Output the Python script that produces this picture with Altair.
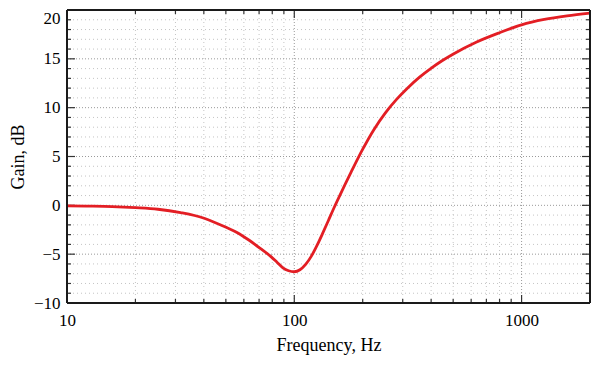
import altair as alt
import pandas as pd

# Curve data
freq = [10, 12.6, 15.8, 20, 25.1, 31.6, 39.8, 44.7, 50.1, 56.2, 63.1, 70.8,
        79.4, 84.1, 89.1, 94.4, 100, 105.9, 112.2, 118.9, 125.9, 133.4, 141.3,
        149.6, 158.5, 177.8, 199.5, 223.9, 251.2, 281.8, 316.2, 354.8, 398.1,
        446.7, 501.2, 631, 794.3, 1000, 1259, 1585, 2000]
gain = [-0.05, -0.08, -0.13, -0.24, -0.4, -0.75, -1.3, -1.75, -2.25, -2.8,
        -3.55, -4.4, -5.3, -5.85, -6.4, -6.7, -6.8, -6.6, -6.05, -5.2, -4.1,
        -2.85, -1.55, -0.25, 1.0, 3.4, 5.7, 7.75, 9.45, 10.85, 12.05, 13.1,
        14.0, 14.8, 15.5, 16.7, 17.65, 18.48, 19.03, 19.4, 19.68]

# Tick / grid positions
x_labels = [10, 100, 1000]
x_major = [100, 1000]
x_minor = [20, 30, 40, 50, 60, 70, 80, 90, 200, 300, 400, 500, 600, 700, 800, 900]
y_labels = [-10, -5, 0, 5, 10, 15, 20]
y_major = [-5, 0, 5, 10, 15]
y_minor = [v for v in range(-10, 21) if v % 5 != 0]
y_major_ticks = [-5, 0, 5, 10, 15]

W, H = 523, 293
FONT = "Liberation Serif"

xs = alt.Scale(type="log", domain=[10, 2000], nice=False)
ys = alt.Scale(domain=[-10, 20], nice=False, zero=False)

xaxis = alt.Axis(values=x_labels, format="d", title="Frequency, Hz", grid=False,
                 ticks=False, tickSize=0, domain=False, labelPadding=9,
                 titlePadding=8, labelFontSize=17, titleFontSize=18,
                 labelFont=FONT, titleFont=FONT, labelColor="black",
                 titleColor="black", titleFontWeight="normal", labelFlush=False)
yaxis = alt.Axis(values=y_labels, title="Gain, dB", grid=False, ticks=False,
                 tickSize=0, domain=False, labelPadding=7, titlePadding=6,
                 labelFontSize=17, titleFontSize=18, labelFont=FONT,
                 titleFont=FONT, labelColor="black", titleColor="black",
                 titleFontWeight="normal", labelFlush=False,
                 labelBaseline={"condition": {"test": "datum.value == 20", "value": "top"},
                                "value": "middle"})

X = alt.X("freq:Q", scale=xs, axis=xaxis)
Y = alt.Y("gain:Q", scale=ys, axis=yaxis)

df_line = pd.DataFrame({"freq": freq, "gain": gain})
df_xmin = pd.DataFrame({"freq": x_minor})
df_xmaj = pd.DataFrame({"freq": x_major})
df_ymin = pd.DataFrame({"gain": y_minor})
df_ymaj = pd.DataFrame({"gain": y_major})
df_ymajt = pd.DataFrame({"gain": y_major_ticks})
df_one = pd.DataFrame({"k": [0]})

minor_grid = dict(color="#c4c4c4", strokeWidth=1, strokeDash=[1, 3])
major_grid = dict(color="#9a9a9a", strokeWidth=1, strokeDash=[1, 2])
tick_style = dict(color="#333333", strokeWidth=1.2)
frame_style = dict(color="#1a1a1a", strokeWidth=2)

layers = [
    alt.Chart(df_xmin).mark_rule(**minor_grid).encode(x=X),
    alt.Chart(df_ymin).mark_rule(**minor_grid).encode(y=Y),
    alt.Chart(df_xmaj).mark_rule(**major_grid).encode(x=X),
    alt.Chart(df_ymaj).mark_rule(**major_grid).encode(y=Y),
    # x ticks bottom / top
    alt.Chart(df_xmin).mark_rule(**tick_style).encode(x=X, y=alt.value(H), y2=alt.value(H - 4)),
    alt.Chart(df_xmin).mark_rule(**tick_style).encode(x=X, y=alt.value(0), y2=alt.value(4)),
    alt.Chart(df_xmaj).mark_rule(**tick_style).encode(x=X, y=alt.value(H), y2=alt.value(H - 8)),
    alt.Chart(df_xmaj).mark_rule(**tick_style).encode(x=X, y=alt.value(0), y2=alt.value(8)),
    # y ticks left / right
    alt.Chart(df_ymin).mark_rule(**tick_style).encode(y=Y, x=alt.value(0), x2=alt.value(4)),
    alt.Chart(df_ymin).mark_rule(**tick_style).encode(y=Y, x=alt.value(W - 4), x2=alt.value(W)),
    alt.Chart(df_ymajt).mark_rule(**tick_style).encode(y=Y, x=alt.value(0), x2=alt.value(8)),
    alt.Chart(df_ymajt).mark_rule(**tick_style).encode(y=Y, x=alt.value(W - 8), x2=alt.value(W)),
    alt.Chart(df_line).mark_line(color="#e31e24", strokeWidth=2.8,
                                 interpolate="monotone").encode(x=X, y=Y),
    # plot frame: top, bottom, left, right
    alt.Chart(df_one).mark_rule(**frame_style).encode(x=alt.value(0), x2=alt.value(W), y=alt.value(0)),
    alt.Chart(df_one).mark_rule(**frame_style).encode(x=alt.value(0), x2=alt.value(W), y=alt.value(H)),
    alt.Chart(df_one).mark_rule(**frame_style).encode(y=alt.value(0), y2=alt.value(H), x=alt.value(0)),
    alt.Chart(df_one).mark_rule(**frame_style).encode(y=alt.value(0), y2=alt.value(H), x=alt.value(W)),
]

chart = alt.layer(*layers).properties(
    width=W, height=H,
    background="white",
    autosize=alt.AutoSizeParams(type="none"),
    padding={"left": 59, "top": 2, "right": 2, "bottom": 52},
).configure_view(strokeWidth=0)

chart.save("out.html", embed_options={"renderer": "svg", "actions": False})
